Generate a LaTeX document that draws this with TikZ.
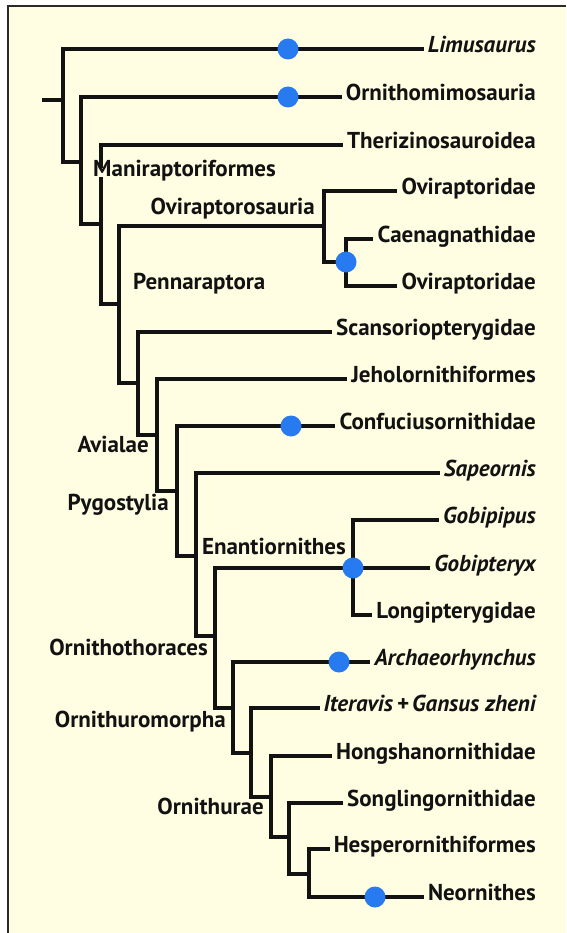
\documentclass[tikz,border=0pt]{standalone}
\usepackage{fontspec}
\setmainfont{PT Sans}
\usepackage{xcolor}
\usepackage{tikz}
\usetikzlibrary{positioning}

\definecolor{paper}{RGB}{255,254,226}
\definecolor{dotblue}{RGB}{40,122,240}
\definecolor{ink}{RGB}{18,18,18}

\begin{document}
\begin{tikzpicture}[
  x=1pt, y=-1pt,
  taxon/.style  = {anchor=east, inner sep=4pt, text height=0.7em, text depth=0pt,
                   font=\fontsize{23}{24}\selectfont\bfseries, text=ink},
  clade/.style  = {inner sep=1pt, text height=0.7em, text depth=0pt,
                   font=\fontsize{23}{24}\selectfont\bfseries, text=ink},
  branch/.style = {draw=ink, line width=3.2pt},
  bluedot/.style = {circle, fill=dotblue, minimum size=21pt, inner sep=0pt}
]

\useasboundingbox (0,0) rectangle (566,933);
\fill[paper] (8,6) rectangle (566,933);
\draw[ink!90, line width=1.5pt] (8,933) -- (8,6) -- (566,6);

% leaves
\node[taxon] (limu)  at (540,49)  {\itshape Limusaurus};
\node[taxon] (ornm)  at (540,97)  {Ornithomimosauria};
\node[taxon] (theri) at (540,145) {Therizinosauroidea};
\node[taxon] (ovi1)  at (540,191) {Oviraptoridae};
\node[taxon] (caen)  at (540,239) {Caenagnathidae};
\node[taxon] (ovi2)  at (540,286) {Oviraptoridae};
\node[taxon] (scan)  at (540,332) {Scansoriopterygidae};
\node[taxon] (jeho)  at (540,379) {Jeholornithiformes};
\node[taxon] (conf)  at (540,426) {Confuciusornithidae};
\node[taxon] (sape)  at (540,473) {\itshape Sapeornis};
\node[taxon] (gobp)  at (540,520) {\itshape Gobipipus};
\node[taxon] (gobt)  at (540,568) {\itshape Gobipteryx};
\node[taxon] (longi) at (540,615) {Longipterygidae};
\node[taxon] (arch)  at (540,662) {\itshape Archaeorhynchus};
\node[taxon] (iter)  at (540,708) {\itshape Iteravis\,+\,Gansus zheni};
\node[taxon] (hong)  at (540,756) {Hongshanornithidae};
\node[taxon] (song)  at (540,803) {Songlingornithidae};
\node[taxon] (hesp)  at (540,849) {Hesperornithiformes};
\node[taxon] (neor)  at (540,897) {Neornithes};

% internal nodes
\coordinate (stem) at (42,100);
\coordinate (root) at (63,100);
\coordinate (nA)   at (81,162);
\coordinate (nB)   at (101,224);
\coordinate (nC)   at (119,304);
\coordinate (nOvi) at (324,226);
\coordinate (nCae) at (346,262);
\coordinate (nD)   at (138,383);
\coordinate (nE)   at (157,435);
\coordinate (nF)   at (177,491);
\coordinate (nG)   at (196,556);
\coordinate (nH)   at (215,636);
\coordinate (nEna) at (353,568);
\coordinate (nI)   at (233,708);
\coordinate (nJ)   at (251,753);
\coordinate (nK)   at (271,797);
\coordinate (nL)   at (289,837);
\coordinate (nM)   at (309,874);

\draw[branch] (stem) -- (root);
\draw[branch] (root) |- (limu.west);
\draw[branch] (root) |- (nA);
\draw[branch] (nA) |- (ornm.west);
\draw[branch] (nA) |- (nB);
\draw[branch] (nB) |- (theri.west);
\draw[branch] (nB) |- (nC);
\draw[branch] (nC) |- (nOvi);
\draw[branch] (nC) |- (nD);
\draw[branch] (nOvi) |- (ovi1.west);
\draw[branch] (nOvi) |- (nCae);
\draw[branch] (nCae) |- (caen.west);
\draw[branch] (nCae) |- (ovi2.west);
\draw[branch] (nD) |- (scan.west);
\draw[branch] (nD) |- (nE);
\draw[branch] (nE) |- (jeho.west);
\draw[branch] (nE) |- (nF);
\draw[branch] (nF) |- (conf.west);
\draw[branch] (nF) |- (nG);
\draw[branch] (nG) |- (sape.west);
\draw[branch] (nG) |- (nH);
\draw[branch] (nH) |- (nEna);
\draw[branch] (nH) |- (nI);
\draw[branch] (nEna) |- (gobp.west);
\draw[branch] (nEna) -- (gobt.west);
\draw[branch] (nEna) |- (longi.west);
\draw[branch] (nI) |- (arch.west);
\draw[branch] (nI) |- (nJ);
\draw[branch] (nJ) |- (iter.west);
\draw[branch] (nJ) |- (nK);
\draw[branch] (nK) |- (hong.west);
\draw[branch] (nK) |- (nL);
\draw[branch] (nL) |- (song.west);
\draw[branch] (nL) |- (nM);
\draw[branch] (nM) |- (hesp.west);
\draw[branch] (nM) |- (neor.west);

% blue dots
\node[bluedot] (d1) at (288,49)  {};
\node[bluedot] (d2) at (288,97)  {};
\node[bluedot] (d3) at (nCae)    {};
\node[bluedot] (d4) at (291,426) {};
\node[bluedot] (d5) at (nEna)    {};
\node[bluedot] (d6) at (339,662) {};
\node[bluedot] (d7) at (375,897) {};

% clade names
\node[clade, fill=paper, anchor=west] (mani) at (92,173)  {Maniraptoriformes};
\node[clade, anchor=east]  (oviro) at (316,211) {Oviraptorosauria};
\node[clade, anchor=west]  (penn)  at (132,286) {Pennaraptora};
\node[clade, anchor=east]  (avia)  at (150,449) {Avialae};
\node[clade, anchor=east]  (pygo)  at (170,507) {Pygostylia};
\node[clade, anchor=east]  (enan)  at (347,551) {Enantiornithes};
\node[clade, anchor=east]  (othx)  at (209,652) {Ornithothoraces};
\node[clade, anchor=east]  (omor)  at (227,724) {Ornithuromorpha};
\node[clade, anchor=east]  (orae)  at (265,811) {Ornithurae};

\end{tikzpicture}
\end{document}
